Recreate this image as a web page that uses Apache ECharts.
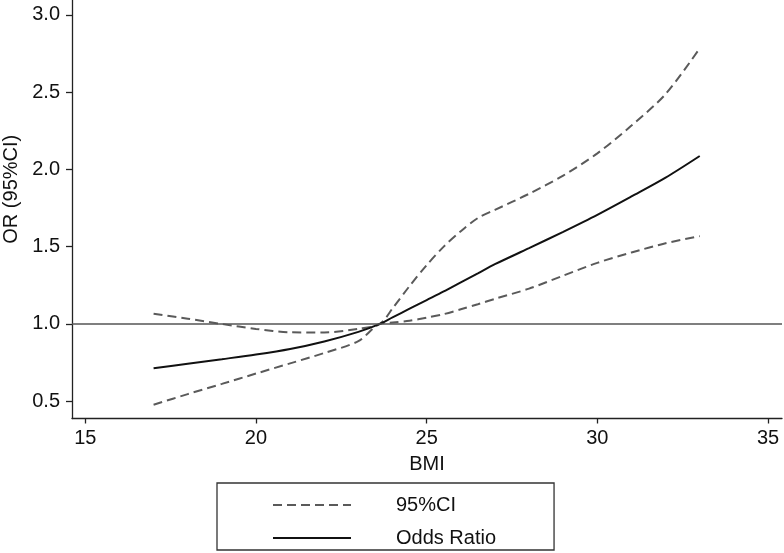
<!DOCTYPE html>
<html>
<head>
<meta charset="utf-8">
<script src="https://cdn.jsdelivr.net/npm/echarts@6/dist/echarts.min.js"></script>
<style>
html,body{margin:0;padding:0;background:#fff;}
#chart{width:784px;height:553px;}
</style>
</head>
<body>
<div id="chart"></div>
<script>
const bmi      = [17, 18, 19, 20, 21, 22, 23, 23.63, 24, 24.5, 25, 25.5, 26, 26.5, 27, 28, 29, 30, 31, 32, 33];
const oddsRatio= [0.712, 0.742, 0.771, 0.801, 0.837, 0.886, 0.948, 1.0, 1.042, 1.098, 1.154, 1.21, 1.269, 1.327, 1.386, 1.49, 1.596, 1.706, 1.825, 1.947, 2.087];
const ciUpper  = [1.065, 1.033, 0.999, 0.967, 0.945, 0.944, 0.968, 1.0, 1.10, 1.245, 1.38, 1.50, 1.60, 1.685, 1.738, 1.842, 1.96, 2.104, 2.284, 2.488, 2.784];
const ciLower  = [0.476, 0.545, 0.611, 0.678, 0.744, 0.811, 0.888, 1.0, 1.008, 1.02, 1.04, 1.063, 1.094, 1.127, 1.162, 1.228, 1.312, 1.395, 1.462, 1.522, 1.568];
const xTicks   = [15, 20, 25, 30, 35];
const yTicks   = [0.5, 1.0, 1.5, 2.0, 2.5, 3.0];
const refValue = 1.0;

const pairs = arr => bmi.map((b, i) => [b, arr[i]]);
const FONT = 'Liberation Sans, Arial, sans-serif';
const chart = echarts.init(document.getElementById('chart'));
const dashStyle = {color: '#5a5a5a', width: 2, type: [9, 5]};
chart.setOption({
  animation: false,
  backgroundColor: '#fff',
  textStyle: {fontFamily: FONT},
  grid: {left: 72, right: 2, top: 0, bottom: 134.5, containLabel: false, outerBoundsMode: 'none'},
  xAxis: {
    type: 'value', min: 14.61, max: 35.41,
    name: 'BMI', nameLocation: 'middle', nameGap: 36,
    nameTextStyle: {fontSize: 20, color: '#111', fontFamily: FONT},
    axisLine: {show: true, onZero: false, lineStyle: {color: '#222', width: 1.3}},
    axisTick: {show: true, length: 5, customValues: xTicks, lineStyle: {color: '#222', width: 1.3}},
    axisLabel: {customValues: xTicks, fontSize: 20, color: '#111', margin: 10, fontFamily: FONT},
    splitLine: {show: false}
  },
  yAxis: {
    type: 'value', min: 0.387, max: 3.097,
    name: 'OR (95%CI)', nameLocation: 'middle', nameGap: 45, nameRotate: 90,
    nameTextStyle: {fontSize: 20, color: '#111', fontFamily: FONT, padding: [0, 0, 0, 40]},
    axisLine: {show: true, onZero: false, lineStyle: {color: '#222', width: 1.3}},
    axisTick: {show: true, length: 6, customValues: yTicks, lineStyle: {color: '#222', width: 1.3}},
    axisLabel: {customValues: yTicks, fontSize: 20, color: '#111', margin: 12, fontFamily: FONT,
                formatter: v => Number(v).toFixed(1)},
    splitLine: {show: false}
  },
  legend: {
    data: ['95%CI', 'Odds Ratio'],
    orient: 'vertical', left: 217, top: 483,
    padding: [11, 58, 1, 55],
    itemWidth: 78, itemHeight: 14, itemGap: 11,
    itemStyle: {opacity: 0},
    borderColor: '#333', borderWidth: 1.3,
    textStyle: {fontSize: 20, color: '#111', fontFamily: FONT, lineHeight: 22, padding: [0, 0, 0, 40]}
  },
  series: [
    {name: '95%CI', type: 'line', data: pairs(ciUpper), symbol: 'none', smooth: 0.3,
     lineStyle: dashStyle, itemStyle: {color: '#5a5a5a'}, z: 3},
    {name: '95%CI', type: 'line', data: pairs(ciLower), symbol: 'none', smooth: 0.3,
     lineStyle: dashStyle, itemStyle: {color: '#5a5a5a'}, z: 3},
    {name: 'Odds Ratio', type: 'line', data: pairs(oddsRatio), symbol: 'none', smooth: 0.3,
     lineStyle: {color: '#111', width: 2}, itemStyle: {color: '#111'}, z: 4,
     markLine: {silent: true, symbol: 'none', label: {show: false},
       lineStyle: {color: '#555', width: 1.6, type: 'solid'},
       data: [{yAxis: refValue}]}}
  ]
});
</script>
</body>
</html>
